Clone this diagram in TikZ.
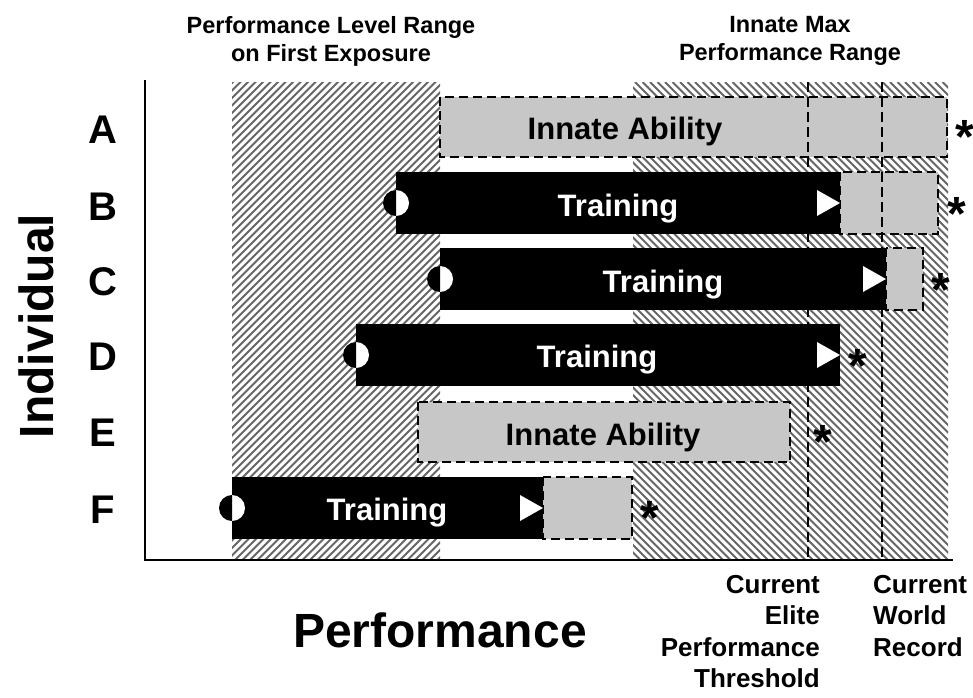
\documentclass[tikz,border=0pt]{standalone}
\usepackage{fontspec}
\setmainfont{Liberation Sans}
\begin{document}
\begin{tikzpicture}[x=1pt,y=-1pt,
  hatch/.style={draw=black!60, line width=1.9pt},
  dashbox/.style={fill=black!22, draw=black, line width=2.8pt, dash pattern=on 9pt off 5pt},
  vline/.style={draw=black, line width=2.8pt, dash pattern=on 10pt off 5pt},
  barfill/.style={fill=black},
  barlabel/.style={text=white, inner sep=0, font=\bfseries\fontsize{31}{36}\selectfont},
  innlabel/.style={text=black, inner sep=0, font=\bfseries\fontsize{31}{36}\selectfont},
  star/.style={inner sep=0, font=\bfseries\fontsize{48}{48}\selectfont},
  rowlabel/.style={inner sep=0, font=\bfseries\fontsize{40}{44}\selectfont},
  biglabel/.style={inner sep=0, font=\bfseries\fontsize{48}{54}\selectfont},
  toplabel/.style={inner sep=0, align=center, font=\bfseries\fontsize{23.5}{28}\selectfont},
  botlabel/.style={inner sep=0, font=\bfseries\fontsize{26}{31.5}\selectfont},
  axis/.style={draw=black, line width=2.8pt},
  tri/.style={fill=white},
]
\useasboundingbox (0,0) rectangle (973,697);

% hatched regions
\begin{scope}
  \clip (232,82) rectangle (440,560);
  \foreach \x in {-260,-252.5,...,445} \draw[hatch] (\x,560) -- ++(490,-490);
\end{scope}
\begin{scope}
  \clip (633,82) rectangle (948,560);
  \foreach \x in {140,147.5,...,950} \draw[hatch] (\x,82) -- ++(490,490);
\end{scope}

% grey (innate) boxes
\path[dashbox] (440,97) rectangle (947,157);
\path[dashbox] (840,172) rectangle (938,234);
\path[dashbox] (886,248) rectangle (923,310);
\path[dashbox] (418,402) rectangle (790,462);
\path[dashbox] (543,477) rectangle (632,539);

% vertical dashed thresholds
\coordinate (e1) at (808,82);
\coordinate (e2) at (808,560);
\coordinate (w1) at (882,82);
\coordinate (w2) at (882,560);
\draw[vline] (e1) -- (e2);
\draw[vline] (w1) -- (w2);

% black training bars
\path[barfill] (396,172) rectangle (840,234);
\path[barfill] (440,248) rectangle (886,310);
\path[barfill] (356,324) rectangle (840,386);
\path[barfill] (232,477) rectangle (543,539);

% triangles
\path[tri] (840,203) -- (817,190) -- (817,216) -- cycle;
\path[tri] (886,279) -- (863,266) -- (863,292) -- cycle;
\path[tri] (840,355) -- (817,342) -- (817,368) -- cycle;
\path[tri] (543,508) -- (520,495) -- (520,521) -- cycle;

% half circles
\foreach \cx/\cy in {396/203, 440/279, 356/355, 232/508}{
  \fill[white] (\cx,\cy) circle[radius=13];
  \fill[black] (\cx,\cy) ++(0,-13) arc[start angle=270, end angle=90, radius=13] -- cycle;
}

% axes
\coordinate (o) at (145,560);
\coordinate (ytop) at (145,80);
\coordinate (xend) at (953,560);
\draw[axis] (ytop) -- (o) -- (xend);

% bar texts
\node[innlabel] (tA) at (625,131) {Innate Ability};
\node[barlabel] (tB) at (618,209) {Training};
\node[barlabel] (tC) at (663,285) {Training};
\node[barlabel] (tD) at (597,360) {Training};
\node[innlabel] (tE) at (603,437) {Innate Ability};
\node[barlabel] (tF) at (387,513) {Training};

% asterisks
\node[star] (sA) at (965,137) {*};
\node[star] (sB) at (957,214) {*};
\node[star] (sC) at (941,290) {*};
\node[star] (sD) at (858,366) {*};
\node[star] (sE) at (823,442) {*};
\node[star] (sF) at (650,518) {*};

% row letters
\node[rowlabel] (lA) at (103,130) {A};
\node[rowlabel] (lB) at (103,207) {B};
\node[rowlabel] (lC) at (103,282) {C};
\node[rowlabel] (lD) at (103,357) {D};
\node[rowlabel] (lE) at (103,433) {E};
\node[rowlabel] (lF) at (103,510) {F};

% axis titles
\node[biglabel, rotate=90] (ylab) at (36,326) {Individual};
\node[biglabel] (xlab) at (440,630) {Performance};

% top labels
\node[toplabel] (top1) at (331,41) {Performance Level Range\\on First Exposure};
\node[toplabel] (top2) at (790,41) {Innate Max\\Performance Range};

% bottom labels
\node[botlabel, align=right, anchor=north east] (elite) at (820,575) {Current\\Elite\\Performance\\Threshold};
\node[botlabel, align=left, anchor=north west] (wr) at (873,575) {Current\\World\\Record};
\end{tikzpicture}
\end{document}
